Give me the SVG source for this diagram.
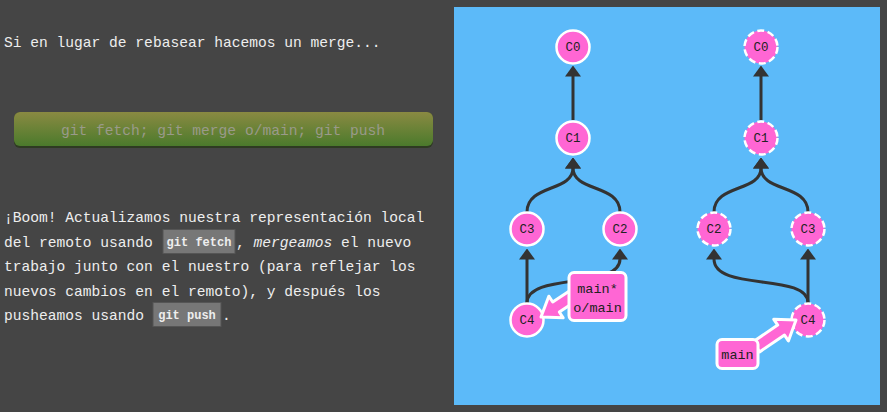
<svg xmlns="http://www.w3.org/2000/svg" width="887" height="412" viewBox="0 0 887 412">
<defs>
<linearGradient id="btn" x1="0" y1="0" x2="0" y2="1">
<stop offset="0" stop-color="#8a8a42"/>
<stop offset="1" stop-color="#4b7a2c"/>
</linearGradient>
<marker id="ah" viewBox="0 0 11 16" refX="0.5" refY="8" markerWidth="11" markerHeight="16" markerUnits="userSpaceOnUse" orient="auto">
<path d="M0,0 L11,8 L0,16 Z" fill="#333"/>
</marker>
<style>
.txt{font-family:"Liberation Mono","DejaVu Sans Mono",monospace;font-size:14.6px;fill:#eeeeee}
.code{font-family:"Liberation Mono","DejaVu Sans Mono",monospace;font-size:12px;fill:#eeeeee;font-weight:bold}
.cbox{fill:#777;stroke:#555;stroke-width:1}
.node circle{fill:#ff66d4;stroke:#fff;stroke-width:2.5}
.node.dash circle{stroke-dasharray:7,3.5}
.node text{font-family:"Liberation Mono","DejaVu Sans Mono",monospace;font-size:12.5px;fill:#222;text-anchor:middle}
.edge{fill:none;stroke:#333;stroke-width:3}
.lbl rect,.lbl polygon{fill:#ff66d4;stroke:#fff;stroke-width:3;stroke-linejoin:round}
.lbl text{font-family:"Liberation Mono","DejaVu Sans Mono",monospace;font-size:13.5px;fill:#222;text-anchor:middle}
</style>
</defs>
<rect x="0" y="0" width="887" height="412" fill="#454545"/>
<g id="intro">
<text class="txt" x="4" y="47">Si en lugar de rebasear hacemos un merge...</text>
</g>
<g id="button">
<rect x="14" y="112" width="419" height="36" rx="6" fill="#2e3a22"/>
<rect x="14" y="112" width="419" height="34" rx="6" fill="url(#btn)"/>
<text x="223" y="135" text-anchor="middle" style="font-family:'Liberation Mono','DejaVu Sans Mono',monospace;font-size:14.6px;fill:#9a9a8a">git fetch; git merge o/main; git push</text>
</g>
<g id="description">
<rect class="cbox" x="163" y="229.5" width="72" height="24"/>
<rect class="cbox" x="153" y="302.5" width="68" height="24"/>
<text class="txt" x="4" y="222">¡Boom! Actualizamos nuestra representación local</text>
<text class="txt" x="4" y="246.5">del remoto usando</text>
<text class="code" x="199" y="246" text-anchor="middle">git fetch</text>
<text class="txt" x="236" y="246.5">, <tspan font-style="italic">mergeamos</tspan> el nuevo</text>
<text class="txt" x="4" y="271">trabajo junto con el nuestro (para reflejar los</text>
<text class="txt" x="4" y="295.5">nuevos cambios en el remoto), y después los</text>
<text class="txt" x="4" y="319.5">pusheamos usando</text>
<text class="code" x="187" y="319" text-anchor="middle">git push</text>
<text class="txt" x="222" y="319.5">.</text>
</g>
<rect id="panel" x="454" y="7" width="426" height="398" fill="#5cbaf9"/>
<g id="connectors">
<path class="edge" d="M573,120 L573,76" marker-end="url(#ah)"/>
<path class="edge" d="M527,212 C527,184 573,192 573,168" marker-end="url(#ah)"/>
<path class="edge" d="M620,212 C620,184 573,192 573,168" marker-end="url(#ah)"/>
<path class="edge" d="M527,303 L527,259" marker-end="url(#ah)"/>
<path class="edge" d="M527,303 C527,272 620,290 620,259" marker-end="url(#ah)"/>
<path class="edge" d="M761,120 L761,76" marker-end="url(#ah)"/>
<path class="edge" d="M714,212 C714,184 761,192 761,168" marker-end="url(#ah)"/>
<path class="edge" d="M808,212 C808,184 761,192 761,168" marker-end="url(#ah)"/>
<path class="edge" d="M808,303 L808,259" marker-end="url(#ah)"/>
<path class="edge" d="M808,303 C808,272 714,292 714,259" marker-end="url(#ah)"/>
</g>
<g id="L-C0" class="node"><circle cx="573" cy="47" r="16.5"/><text x="573" y="51">C0</text></g>
<g id="L-C1" class="node"><circle cx="573" cy="138" r="16.5"/><text x="573" y="142">C1</text></g>
<g id="L-C3" class="node"><circle cx="527" cy="229" r="16.5"/><text x="527" y="233">C3</text></g>
<g id="L-C2" class="node"><circle cx="620" cy="229" r="16.5"/><text x="620" y="233">C2</text></g>
<g id="L-C4" class="node"><circle cx="527" cy="320" r="16.5"/><text x="527" y="324">C4</text></g>
<g id="R-C0" class="node dash"><circle cx="761" cy="47" r="16.5"/><text x="761" y="51">C0</text></g>
<g id="R-C1" class="node dash"><circle cx="761" cy="138" r="16.5"/><text x="761" y="142">C1</text></g>
<g id="R-C2" class="node dash"><circle cx="714" cy="229" r="16.5"/><text x="714" y="233">C2</text></g>
<g id="R-C3" class="node dash"><circle cx="808" cy="229" r="16.5"/><text x="808" y="233">C3</text></g>
<g id="R-C4" class="node dash"><circle cx="808" cy="320" r="16.5"/><text x="808" y="324">C4</text></g>
<g id="L-main" class="lbl">
<polygon points="541,317 548.8,296.2 552.7,302 569.4,290.9 576,300.9 559.3,312 563.2,317.8"/>
<rect x="569" y="272.5" width="57" height="48" rx="5"/>
<text x="597.5" y="293">main*</text>
<text x="597.5" y="312">o/main</text>
</g>
<g id="R-main" class="lbl">
<polygon points="796,320 788.4,340.9 784.5,335.1 759.6,351.9 752.8,341.9 777.7,325.1 773.8,319.3"/>
<rect x="717" y="339.5" width="41" height="29" rx="5"/>
<text x="737.5" y="358.5">main</text>
</g>
</svg>
